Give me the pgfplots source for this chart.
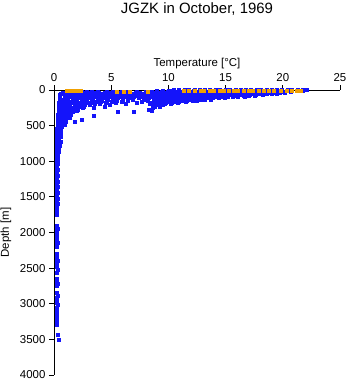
\documentclass[border=0pt]{standalone}
\usepackage{pgfplots}
\pgfplotsset{compat=1.18}
\usepackage{fontspec}
\setmainfont{Liberation Sans}
\definecolor{obsblue}{RGB}{20,20,250}
\definecolor{obsorange}{RGB}{240,160,0}
\begin{document}
\begin{tikzpicture}
\begin{axis}[
  scale only axis, width=286bp, height=285bp,
  xmin=0, xmax=25, ymin=0, ymax=4000, y dir=reverse,
  axis x line=top, axis y line=left, axis line style={-, line width=0.8pt},
  tick align=outside, major tick length=5bp, tick style={black, line width=0.8pt},
  xtick={0,5,10,15,20,25}, ytick={0,500,1000,1500,2000,2500,3000,3500,4000},
  /pgf/number format/assume math mode=true,
  /pgf/number format/set thousands separator={},
  ticklabel style={font=\fontsize{11.5}{12}\selectfont},
  xlabel={Temperature [°C]}, ylabel={Depth [m]},
  label style={font=\fontsize{11.5}{12}\selectfont},
  xlabel style={yshift=-2bp},
  ylabel style={yshift=2bp},
  title={JGZK in October, 1969},
  title style={font=\fontsize{15}{16}\selectfont, at={(0.5,1)}, anchor=base, yshift=71bp},
]
\addplot[only marks, mark=square*, mark size=1.5bp, color=obsblue] coordinates {
(10.5,0)(10.9,0)(11.4,0)(11.8,0)(12.3,0)(12.7,0)(13.2,0)(13.6,0)(14.1,0)(14.5,0)(15.0,0)(15.4,0)(15.9,0)(16.3,0)(16.8,0)(17.2,0)(17.7,0)(18.1,0)(18.6,0)(19.0,0)(19.5,0)(19.9,0)(20.4,0)(20.8,0)(21.3,0)(21.7,0)(22.1,0)
(10.0,8)(10.4,8)(10.9,8)(11.3,8)(11.8,8)(12.2,8)(12.7,8)(13.1,8)(13.6,8)(14.0,8)(14.5,8)(14.9,8)(15.4,8)(15.8,8)(16.3,8)(16.7,8)(17.2,8)(17.6,8)(18.1,8)(18.5,8)(19.0,8)(19.4,8)(19.9,8)(20.3,8)(20.8,8)(21.2,8)(21.7,8)
(9.0,16)(9.5,16)(10.0,16)(10.4,16)(10.9,16)(11.3,16)(11.8,16)(12.2,16)(12.7,16)(13.1,16)(13.6,16)(14.0,16)(14.5,16)(14.9,16)(15.4,16)(15.8,16)(16.3,16)(16.7,16)(17.2,16)(17.6,16)(18.1,16)(18.5,16)(19.0,16)(19.4,16)(19.9,16)(20.3,16)(20.8,16)(21.2,16)
(1.5,25)(2.0,25)(2.4,25)(2.9,25)(3.3,25)(3.8,25)(4.6,25)(5.1,25)(5.9,25)(6.4,25)(7.2,25)(8.0,25)(8.5,25)(9.0,25)(9.4,25)(9.9,25)(10.3,25)(10.8,25)(11.2,25)(11.7,25)(12.1,25)(12.6,25)(13.0,25)(13.5,25)(13.9,25)(14.4,25)(14.8,25)(15.3,25)(15.7,25)(16.2,25)(16.6,25)(17.1,25)(17.5,25)(18.0,25)(18.4,25)(18.9,25)(19.3,25)(19.8,25)(20.2,25)(20.7,25)
(0.8,35)(1.2,35)(1.7,35)(2.1,35)(2.6,35)(3.0,35)(3.5,35)(3.9,35)(4.4,35)(4.8,35)(5.3,35)(5.7,35)(6.2,35)(6.6,35)(7.1,35)(7.5,35)(8.0,35)(8.4,35)(8.9,35)(9.3,35)(9.8,35)(10.2,35)(10.7,35)(11.1,35)(11.6,35)(12.0,35)(12.5,35)(12.9,35)(13.4,35)(13.8,35)(14.3,35)(14.7,35)(15.2,35)(15.6,35)(16.1,35)(16.5,35)(17.0,35)(17.4,35)(17.9,35)(18.3,35)(18.8,35)(19.2,35)(19.7,35)(20.2,35)
(0.6,45)(1.0,45)(1.5,45)(1.9,45)(2.4,45)(2.8,45)(3.3,45)(3.7,45)(4.2,45)(4.6,45)(5.1,45)(5.5,45)(6.0,45)(6.4,45)(6.9,45)(7.3,45)(7.8,45)(8.2,45)(8.7,45)(9.1,45)(9.6,45)(10.0,45)(10.5,45)(10.9,45)(11.4,45)(11.8,45)(12.3,45)(12.7,45)(13.2,45)(13.6,45)(14.1,45)(14.5,45)(15.0,45)(15.4,45)(15.9,45)(16.3,45)(16.8,45)(17.2,45)(17.7,45)(18.1,45)(18.6,45)(19.0,45)(19.5,45)
(0.6,55)(1.0,55)(1.4,55)(1.9,55)(2.3,55)(2.8,55)(3.2,55)(3.7,55)(4.1,55)(4.6,55)(5.0,55)(5.5,55)(5.9,55)(6.4,55)(7.3,55)(7.7,55)(8.2,55)(8.6,55)(9.1,55)(9.5,55)(10.0,55)(10.4,55)(10.9,55)(11.3,55)(11.8,55)(12.2,55)(12.7,55)(13.1,55)(13.6,55)(14.0,55)(14.5,55)(14.9,55)(15.4,55)(15.8,55)(16.3,55)(16.7,55)(17.2,55)(17.6,55)(18.1,55)(18.5,55)(19.0,55)
(0.5,65)(0.9,65)(1.4,65)(1.8,65)(2.3,65)(2.7,65)(3.2,65)(3.6,65)(4.1,65)(4.5,65)(5.0,65)(5.4,65)(6.3,65)(6.8,65)(7.2,65)(8.1,65)(8.6,65)(9.0,65)(9.5,65)(9.9,65)(10.4,65)(10.8,65)(11.3,65)(11.7,65)(12.2,65)(12.6,65)(13.1,65)(13.5,65)(14.0,65)(14.4,65)(14.9,65)(15.3,65)(15.8,65)(16.2,65)(16.7,65)(17.1,65)(17.6,65)(18.2,65)
(0.5,75)(0.9,75)(1.3,75)(1.8,75)(2.2,75)(2.7,75)(3.1,75)(3.6,75)(4.0,75)(4.5,75)(4.9,75)(5.4,75)(5.8,75)(6.7,75)(7.1,75)(7.6,75)(8.5,75)(8.9,75)(9.4,75)(9.8,75)(10.3,75)(10.7,75)(11.2,75)(11.6,75)(12.1,75)(12.5,75)(13.0,75)(13.4,75)(13.9,75)(14.3,75)(14.8,75)(15.2,75)(15.7,75)(16.1,75)(16.6,75)(17.0,75)(17.5,75)
(0.5,88)(0.9,88)(1.3,88)(1.7,88)(2.2,88)(2.6,88)(3.1,88)(3.5,88)(4.0,88)(4.4,88)(4.9,88)(5.3,88)(6.2,88)(6.6,88)(7.5,88)(8.0,88)(8.4,88)(8.9,88)(9.3,88)(9.8,88)(10.2,88)(10.7,88)(11.1,88)(11.6,88)(12.0,88)(12.5,88)(12.9,88)(13.4,88)(13.8,88)(14.3,88)(14.7,88)(15.2,88)(15.6,88)(16.1,88)(16.7,88)
(0.5,100)(0.9,100)(1.3,100)(1.7,100)(2.1,100)(2.6,100)(3.0,100)(3.5,100)(3.9,100)(4.4,100)(4.8,100)(5.7,100)(6.1,100)(7.0,100)(7.9,100)(8.3,100)(8.8,100)(9.2,100)(9.7,100)(10.1,100)(10.6,100)(11.0,100)(11.5,100)(11.9,100)(12.4,100)(12.8,100)(13.3,100)(13.7,100)(14.2,100)(14.6,100)(15.1,100)(15.6,100)
(0.5,115)(0.9,115)(1.2,115)(1.6,115)(2.1,115)(2.5,115)(3.0,115)(3.4,115)(3.9,115)(4.3,115)(5.2,115)(5.6,115)(6.5,115)(7.4,115)(8.3,115)(9.0,115)(9.4,115)(9.9,115)(10.3,115)(10.8,115)(11.2,115)(11.7,115)(12.1,115)(12.6,115)(13.0,115)(13.5,115)(13.9,115)(14.4,115)(14.9,115)
(0.5,130)(0.8,130)(1.2,130)(1.6,130)(2.0,130)(2.5,130)(2.9,130)(3.4,130)(3.8,130)(4.7,130)(5.1,130)(6.0,130)(6.9,130)(7.8,130)(8.7,130)(9.2,130)(9.6,130)(10.1,130)(10.5,130)(11.0,130)(11.4,130)(11.9,130)(12.3,130)(12.8,130)(13.2,130)(13.7,130)
(0.5,145)(0.8,145)(1.2,145)(1.6,145)(2.0,145)(2.4,145)(2.9,145)(3.3,145)(4.2,145)(4.6,145)(5.5,145)(6.4,145)(8.2,145)(8.9,145)(9.4,145)(9.8,145)(10.3,145)(10.7,145)(11.2,145)(11.6,145)(12.1,145)(12.5,145)
(0.5,160)(0.8,160)(1.1,160)(1.5,160)(1.9,160)(2.4,160)(2.8,160)(3.7,160)(4.1,160)(5.0,160)(5.9,160)(7.7,160)(8.7,160)(9.1,160)(9.6,160)(10.0,160)(10.5,160)(10.9,160)(11.5,160)
(0.4,175)(0.8,175)(1.1,175)(1.5,175)(1.9,175)(2.3,175)(2.8,175)(3.2,175)(4.5,175)(5.4,175)(7.2,175)(8.5,175)(8.9,175)(9.4,175)(9.8,175)(10.3,175)(10.8,175)
(0.4,190)(0.7,190)(1.1,190)(1.4,190)(1.8,190)(2.3,190)(2.7,190)(3.6,190)(4.0,190)(6.3,190)(8.4,190)(8.8,190)(9.3,190)(9.7,190)(10.2,190)
(0.4,210)(0.7,210)(1.0,210)(1.4,210)(1.8,210)(2.2,210)(2.7,210)(3.1,210)(4.9,210)(8.6,210)(9.0,210)(9.5,210)
(0.4,230)(0.7,230)(1.0,230)(1.4,230)(1.8,230)(2.2,230)(2.6,230)(4.4,230)(8.8,230)(9.2,230)
(0.4,250)(0.7,250)(1.0,250)(1.3,250)(1.7,250)(2.1,250)(2.5,250)(3.5,250)(8.6,250)
(0.4,270)(0.7,270)(1.0,270)(1.3,270)(1.7,270)(2.1,270)(8.3,270)(8.5,285)
(0.4,290)(0.6,290)(0.9,290)(1.3,290)(1.6,290)(2.0,290)
(0.4,310)(0.6,310)(0.9,310)(1.2,310)(1.6,310)(5.6,310)(7.0,310)
(0.4,330)(0.6,330)(0.9,330)(1.2,330)(1.5,330)
(0.3,350)(0.6,350)(0.9,350)(1.2,350)(1.5,350)(3.5,365)
(0.3,370)(0.6,370)(0.8,370)(1.1,370)
(0.3,390)(0.6,390)(0.8,390)(1.1,390)(1.4,390)
(0.3,410)(0.5,410)(0.8,410)(1.0,410)(2.4,412)
(0.3,430)(0.5,430)(0.8,430)(1.0,430)(1.8,445)
(0.3,450)(0.5,450)(0.7,450)(1.0,450)
(0.3,470)(0.5,470)(0.7,470)
(0.3,490)(0.5,490)(0.7,490)(0.9,490)
(0.3,510)(0.5,510)(0.7,510)
(0.2,540)(0.4,540)(0.6,540)(0.2,570)(0.4,570)(0.6,570)(0.2,600)(0.4,600)(0.6,600)
(0.2,630)(0.4,630)(0.2,660)(0.4,660)(0.6,660)(0.2,690)(0.4,690)
(0.2,720)(0.4,720)(0.6,720)(0.2,750)(0.4,750)(0.2,780)(0.4,780)(0.5,780)
(0.2,810)(0.4,810)(0.2,840)(0.35,840)(0.2,870)(0.4,870)(0.2,900)(0.35,900)
(0.2,930)(0.35,930)(0.2,960)(0.3,960)(0.2,1000)(0.35,1000)
(0.2,1040)(0.3,1040)(0.2,1080)(0.2,1120)(0.3,1120)(0.2,1160)(0.25,1200)(0.35,1200)(0.2,1240)
(0.2,1280)(0.3,1280)(0.2,1320)(0.2,1360)(0.3,1360)(0.2,1400)(0.2,1440)(0.3,1440)(0.2,1480)
(0.2,1520)(0.3,1520)(0.2,1560)(0.2,1600)(0.3,1600)(0.2,1640)(0.2,1680)(0.2,1720)(0.2,1750)
(0.2,1900)(0.2,1940)(0.3,1940)(0.2,1980)(0.2,2020)(0.2,2060)(0.2,2100)(0.2,2150)(0.3,2150)
(0.2,2200)(0.2,2300)(0.2,2340)(0.2,2380)(0.3,2400)(0.2,2440)(0.2,2480)(0.3,2520)
(0.2,2560)(0.25,2650)(0.2,2690)(0.3,2720)(0.2,2750)
(0.2,2850)(0.3,2880)(0.25,2910)(0.2,2950)(0.2,2990)(0.3,3020)(0.2,3060)
(0.25,3100)(0.2,3140)(0.2,3180)(0.25,3220)(0.2,3260)(0.2,3300)(0.35,3440)(0.4,3500)
};
\addplot[only marks, mark=square*, mark size=1.5bp, color=obsorange] coordinates {
(1.1,5)(1.4,5)(1.7,5)(2.0,5)(2.3,5)
(5.5,30)(6.1,30)(6.6,20)(8.2,20)
(11.3,10)(11.8,10)(12.3,10)(12.8,10)(13.1,10)(13.6,10)(14,10)(14.5,10)(14.8,10)
(15.3,10)(15.7,10)(16.1,10)(16.6,10)(17,10)(17.4,10)(17.9,10)(18.3,10)(18.8,10)
(19.2,10)(19.8,10)(20.3,10)(20.8,10)(21.2,10)(21.6,10)
};
\end{axis}
\pgfresetboundingbox
\path[use as bounding box] (-54bp,-9bp) rectangle (294bp,375bp);
\end{tikzpicture}
\end{document}
